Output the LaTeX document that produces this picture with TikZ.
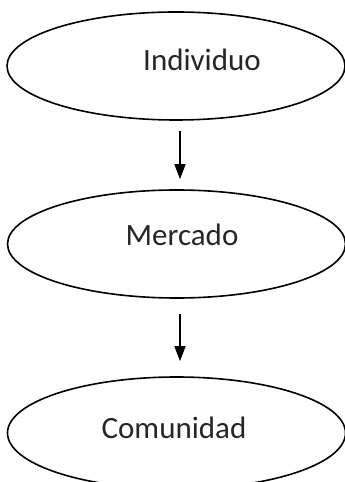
\documentclass[tikz,border=0pt]{standalone}
\usepackage{fontspec}
\setmainfont{Carlito}
\usetikzlibrary{shapes.geometric,arrows.meta}
\begin{document}
\begin{tikzpicture}[x=1pt,y=1pt,
  oval/.style={ellipse,draw,line width=1.6pt,minimum width=338pt,minimum height=#1,inner sep=0pt},
  label text/.style={font=\fontsize{31}{33}\selectfont,text=black!85,inner sep=0pt},
  flow/.style={line width=1.5pt,-{Triangle[length=15pt,width=11pt]}}]
\useasboundingbox (0,0) rectangle (345,482);
% the three stages
\node[oval=108pt] (e1) at (176,416) {};
\node[oval=108pt] (e2) at (176.5,238) {};
\node[oval=112pt] (e3) at (176.5,49) {};
\node[label text] (t1) at (202,422) {Individuo};
\node[label text] (t2) at (182,247) {Mercado};
\node[label text] (t3) at (174,54) {Comunidad};
% downward links
\draw[flow] ([xshift=4pt,yshift=-10pt]e1.south) -- ([xshift=3.5pt,yshift=10pt]e2.north);
\draw[flow] ([xshift=3.5pt,yshift=-15pt]e2.south) -- ([xshift=3.5pt,yshift=15pt]e3.north);
\end{tikzpicture}
\end{document}
